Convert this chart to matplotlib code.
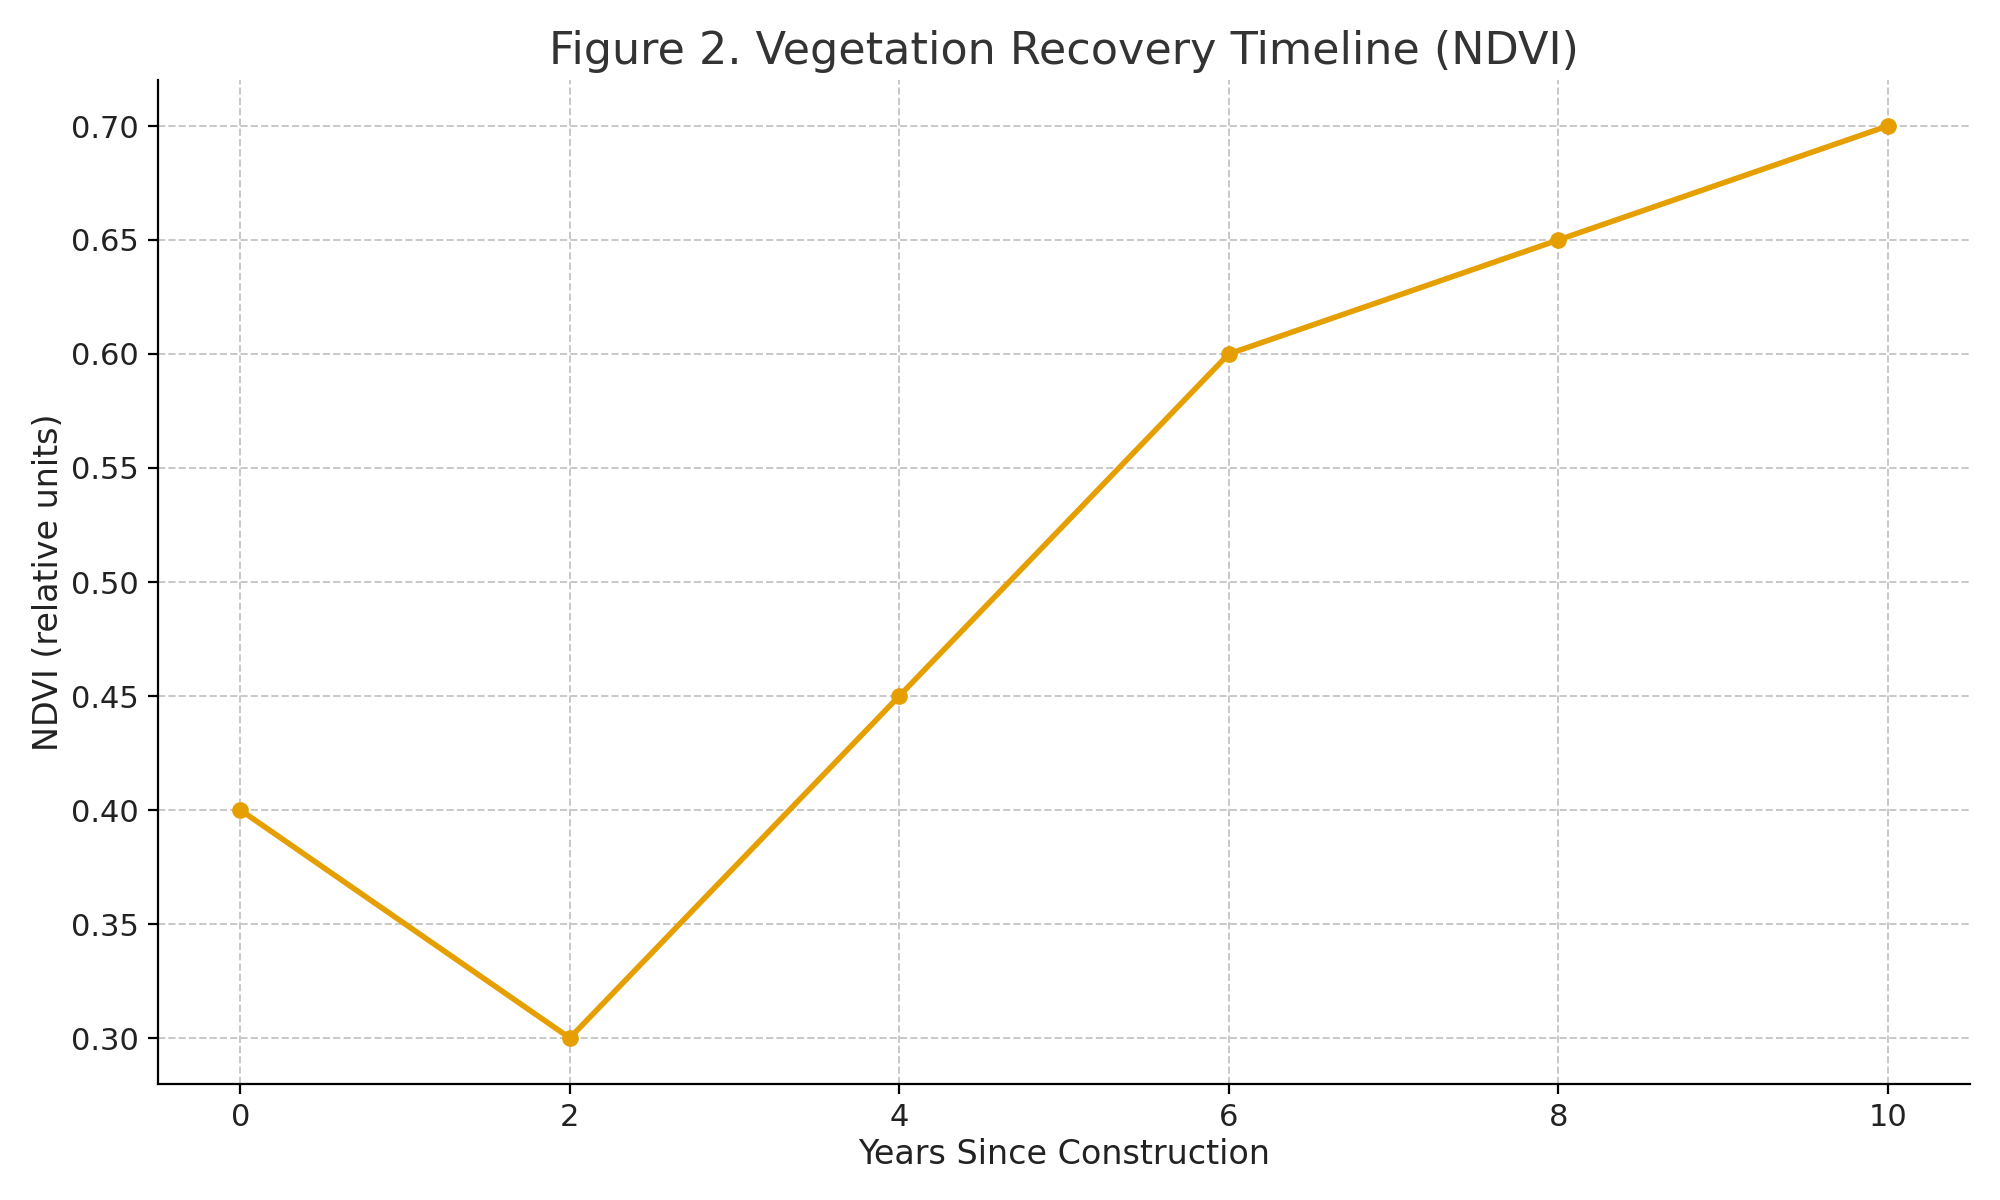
import matplotlib.pyplot as plt

years = [0, 2, 4, 6, 8, 10]
ndvi = [0.40, 0.30, 0.45, 0.60, 0.65, 0.70]

fig, ax = plt.subplots(figsize=(10, 6), dpi=200)
ax.plot(years, ndvi, color="#E69F00", linewidth=2, marker="o", markersize=5)

ax.set_title("Figure 2. Vegetation Recovery Timeline (NDVI)", fontsize=16, color="#333333")
ax.set_xlabel("Years Since Construction", fontsize=12, color="#222222", labelpad=2)
ax.set_ylabel("NDVI (relative units)", fontsize=12, color="#222222", labelpad=2)
ax.set_xticks(years)
ax.set_ylim(0.28, 0.72)
ax.tick_params(labelsize=11, labelcolor="#222222")
ax.yaxis.set_major_formatter(plt.FormatStrFormatter("%.2f"))
ax.grid(True, linestyle="--", color="#c8c8c8", linewidth=0.7)
ax.spines["top"].set_visible(False)
ax.spines["right"].set_visible(False)

plt.subplots_adjust(left=0.079, right=0.985, top=0.933, bottom=0.097)
plt.savefig("out.png")
